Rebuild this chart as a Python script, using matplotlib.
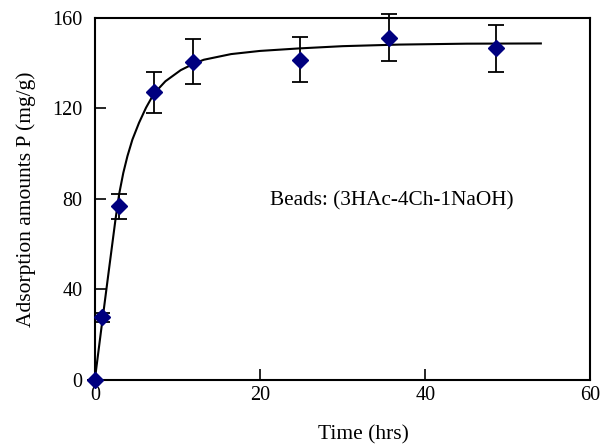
import matplotlib
matplotlib.use("Agg")
import numpy as np
import matplotlib.pyplot as plt

# measured adsorption (mean and error)
time_hrs = [0, 0.85, 2.9, 7.2, 11.85, 24.8, 35.6, 48.55]
adsorption = [0, 27.6, 76.7, 127.1, 140.7, 141.5, 151.2, 146.6]
adsorption_err = [0, 1.9, 5.4, 9.0, 10.0, 10.0, 10.3, 10.3]

# kinetic model curve
curve_t = [0, 0.9, 1.7, 2.5, 2.95, 3.45, 3.95, 4.55, 5.35, 6.2, 7.15,
           8.55, 10.4, 12.0, 13.2, 16.5, 20.0, 24.7, 30.0, 36.8, 45.0, 54.0]
curve_p = [0, 25.8, 48.4, 70.8, 82.2, 91.5, 98.9, 106.2, 113.6, 120.3, 126.5,
           132.0, 136.9, 139.8, 141.5, 144.0, 145.4, 146.5, 147.5, 148.2, 148.6, 148.7]

xticks = [0, 20, 40, 60]
yticks = [0, 40, 80, 120, 160]

plt.rcParams['font.family'] = ['Liberation Serif', 'DejaVu Serif']

fig = plt.figure(figsize=(6, 4.47), dpi=100)
ax = fig.add_axes([0.158, 0.150, 0.826, 0.810])

ax.plot(curve_t, curve_p, color="black", lw=1.5, zorder=2)
ax.errorbar(time_hrs, adsorption, yerr=adsorption_err, fmt="D", color="#00007f",
            ms=8, ecolor="black", elinewidth=1.3, capsize=5.5, capthick=1.3,
            zorder=3, clip_on=False)

ax.set_xlim(0, 60)
ax.set_ylim(0, 160)
ax.set_xticks(xticks)
ax.set_yticks(yticks)
ax.tick_params(direction="in", length=8, width=1.2, labelsize=14.5)
ax.tick_params(axis="x", pad=4.5)
ax.tick_params(axis="y", pad=9)
for s in ax.spines.values():
    s.set_linewidth(1.5)

ax.set_xlabel("Time (hrs)", fontsize=15.5)
ax.set_ylabel("Adsorption amounts P (mg/g)", fontsize=15.5)
ax.xaxis.set_label_coords(0.543, -0.125)
ax.yaxis.set_label_coords(-0.118, 0.5)

ax.text(21.2, 79, "Beads: (3HAc-4Ch-1NaOH)", fontsize=15.3, va="center")

fig.savefig("out.png", dpi=100)
